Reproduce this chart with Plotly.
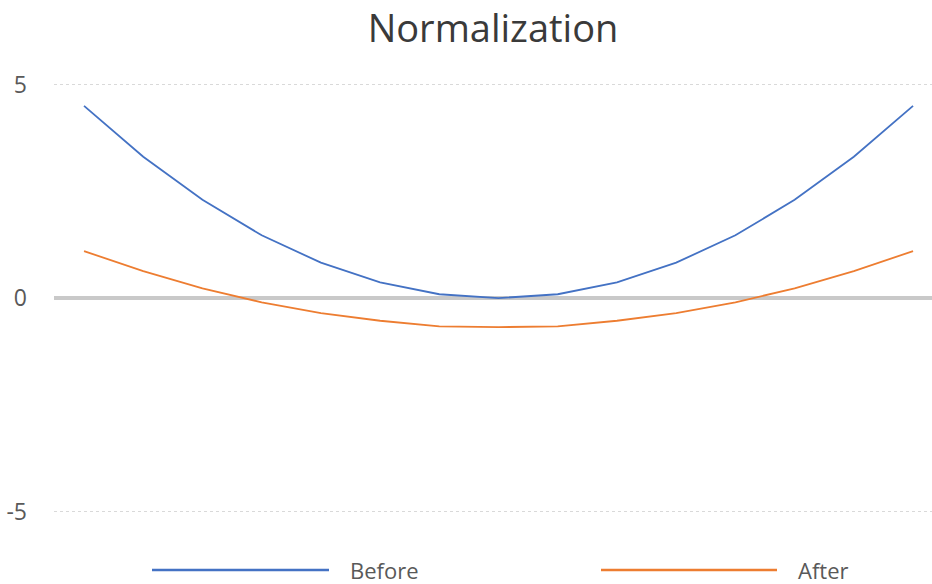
import plotly.graph_objects as go

# Sample index along the category axis
categories = list(range(15))

# Values before and after normalization
before = [4.5, 3.31, 2.30, 1.47, 0.83, 0.37, 0.09, 0.0, 0.09, 0.37, 0.83, 1.47, 2.30, 3.31, 4.5]
after = [1.10, 0.63, 0.23, -0.10, -0.35, -0.53, -0.66, -0.68, -0.66, -0.53, -0.35, -0.10, 0.23, 0.63, 1.10]

series_names = ["Before", "After"]
series_colors = ["#4472C4", "#ED7D31"]
y_ticks = [-5, 0, 5]

W, H = 932, 584
L, R, T, B = 54, 0, 60, 44
plot_w = W - L - R
plot_h = H - T - B

fig = go.Figure()
for name, vals, col in zip(series_names, [before, after], series_colors):
    fig.add_trace(go.Scatter(
        x=categories, y=vals, mode="lines", name=name,
        line=dict(color=col, width=1.8), showlegend=False,
    ))

# Custom legend below the plot: long line swatch followed by label
legend_y_px = 570
legend_items = [(152, 329, 348), (601, 777, 796)]
for (x0, x1, tx), name, col in zip(legend_items, series_names, series_colors):
    yp = (H - B - legend_y_px) / plot_h
    fig.add_shape(type="line", xref="paper", yref="paper",
                  x0=(x0 - L) / plot_w, x1=(x1 - L) / plot_w, y0=yp, y1=yp,
                  line=dict(color=col, width=2.5))
    fig.add_annotation(xref="paper", yref="paper", x=(tx - L) / plot_w, y=yp,
                       text=name, showarrow=False, xanchor="left", yanchor="middle",
                       font=dict(size=22, color="#595959", family="Open Sans"))

fig.update_layout(
    width=W, height=H,
    margin=dict(l=L, r=R, t=T, b=B),
    paper_bgcolor="white", plot_bgcolor="white",
    font=dict(family="Open Sans", color="#595959"),
    title=dict(text="Normalization", x=0.5, xref="paper", xanchor="center",
               y=1 - 29 / H, yref="container", yanchor="middle",
               font=dict(size=38, color="#3a3a3a", family="Open Sans")),
)
fig.update_xaxes(range=[-0.507, 14.32], showgrid=False, zeroline=False,
                 showticklabels=False, showline=False, fixedrange=True)
fig.update_yaxes(range=[-5.663, 5.574], tickvals=y_ticks, ticktext=[str(v) for v in y_ticks],
                 showgrid=True, gridcolor="#d9d9d9", griddash="dot", gridwidth=1,
                 zeroline=True, zerolinecolor="#c9c9c9", zerolinewidth=3.5,
                 showline=False, ticks="", ticklabelstandoff=26,
                 tickfont=dict(size=23, color="#595959", family="Open Sans"))

fig.write_html("out.html")
